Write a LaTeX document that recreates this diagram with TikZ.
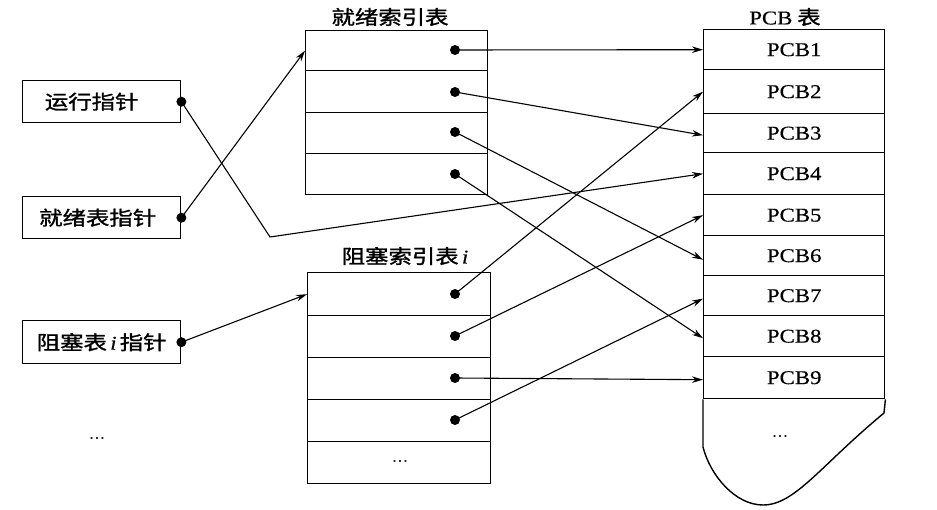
\documentclass[tikz,border=0pt]{standalone}
\usepackage{fontspec}
\usepackage{graphicx}
\setmainfont[FakeBold=0.4]{Liberation Serif}
\newfontfamily\cjk[FakeBold=1.3]{Noto Sans CJK SC}
\usetikzlibrary{arrows.meta}
\newcommand{\zh}[1]{\scalebox{1.2}[1]{\cjk #1}}
\newcommand{\en}[1]{\scalebox{1.17}[1]{#1}}
\begin{document}
\begin{tikzpicture}[x=1pt,y=-1pt,
  txt/.style={font=\fontsize{19.5}{20}\selectfont,inner sep=0pt},
  box/.style={draw,line width=1.4pt,inner sep=0pt,anchor=north west,txt},
  dot/.style={circle,fill,inner sep=0pt,minimum size=10pt},
  arr/.style={line width=1.1pt,-{Stealth[length=11pt,width=6.5pt]}},
]
\useasboundingbox (0,0) rectangle (937,510);
% pointer boxes
\node[box,minimum width=158pt,minimum height=42pt] (run) at (22,80) {\hspace*{-20pt}\zh{运行指针}};
\node[box,minimum width=158pt,minimum height=42pt] (ready) at (22,196) {\hspace*{-8pt}\zh{就绪表指针}};
\node[box,minimum width=158pt,minimum height=43pt] (blk) at (22,320) {\zh{阻塞表}\,\en{\itshape i}\,\zh{指针}};
\node[txt] (ldots) at (97,438) {\en{\fontsize{14}{14}\selectfont\dots}};
% ready index table
\node[txt] (rt) at (390,17) {\zh{就绪索引表}};
\node[box,minimum width=182pt,minimum height=40pt] (r1) at (305,30) {};
\node[box,minimum width=182pt,minimum height=42pt] (r2) at (305,70) {};
\node[box,minimum width=182pt,minimum height=41pt] (r3) at (305,112) {};
\node[box,minimum width=182pt,minimum height=41pt] (r4) at (305,153) {};
% blocked index table
\node[txt] (bt) at (405,256) {\zh{阻塞索引表}\,\en{\itshape i}};
\node[box,minimum width=183pt,minimum height=43pt] (b1) at (307,272) {};
\node[box,minimum width=183pt,minimum height=42pt] (b2) at (307,315) {};
\node[box,minimum width=183pt,minimum height=42pt] (b3) at (307,357) {};
\node[box,minimum width=183pt,minimum height=42pt] (b4) at (307,399) {};
\node[box,minimum width=183pt,minimum height=42pt] (b5) at (307,441) {};
\node[txt] (bdots) at (400,461) {\en{\fontsize{14}{14}\selectfont\dots}};
% PCB table
\node[txt] (pt) at (785,17) {\en{PCB}\ \zh{表}};
\node[box,minimum width=181pt,minimum height=40pt] (p1) at (703,29) {\en{PCB1}};
\node[box,minimum width=181pt,minimum height=44pt] (p2) at (703,69) {\raisebox{-4pt}{\en{PCB2}}};
\node[box,minimum width=181pt,minimum height=39pt] (p3) at (703,113) {\raisebox{-2pt}{\en{PCB3}}};
\node[box,minimum width=181pt,minimum height=42pt] (p4) at (703,152) {\raisebox{-4pt}{\en{PCB4}}};
\node[box,minimum width=181pt,minimum height=41pt] (p5) at (703,194) {\raisebox{-1pt}{\en{PCB5}}};
\node[box,minimum width=181pt,minimum height=40pt] (p6) at (703,235) {\raisebox{-2pt}{\en{PCB6}}};
\node[box,minimum width=181pt,minimum height=40pt] (p7) at (703,275) {\raisebox{-2pt}{\en{PCB7}}};
\node[box,minimum width=181pt,minimum height=41pt] (p8) at (703,315) {\en{PCB8}};
\node[box,minimum width=181pt,minimum height=42pt] (p9) at (703,356) {\raisebox{-1pt}{\en{PCB9}}};
\draw[line width=1.4pt] (p9.south east) -- (884,413)
  .. controls (820,466) and (795,505) .. (763,505)
  .. controls (735,505) and (710,475) .. (703,447) -- (p9.south west);
\node[txt] (pdots) at (780,436) {\en{\fontsize{14}{14}\selectfont\dots}};
% dots
\node[dot] at (run.east) {};
\node[dot] at (ready.east) {};
\node[dot] at (blk.east) {};
\node[dot] (d1) at (455,50) {};
\node[dot] (d2) at (455,92) {};
\node[dot] (d3) at (455,132) {};
\node[dot] (d4) at (455,174) {};
\node[dot] (e1) at (455,294) {};
\node[dot] (e2) at (455,336) {};
\node[dot] (e3) at (455,378) {};
\node[dot] (e4) at (455,420) {};
\coordinate (bend) at (270,237);
% connectors
\draw[arr] (run.east) -- (bend) -- (p4.west);
\draw[arr] (ready.east) -- (r1.west);
\draw[arr] (blk.east) -- (b1.west);
\draw[arr] (d1.center) -- (p1.west);
\draw[arr] (d2.center) -- ([yshift=-2pt]p3.west);
\draw[arr] (d3.center) -- ([yshift=-4pt]p6.west);
\draw[arr] (d4.center) -- ([yshift=-2pt]p8.west);
\draw[arr] (e1.center) -- (p2.west);
\draw[arr] (e2.center) -- (p5.west);
\draw[arr] (e3.center) -- ([yshift=-2pt]p9.west);
\draw[arr] (e4.center) -- ([yshift=-3pt]p7.west);
\end{tikzpicture}
\end{document}
